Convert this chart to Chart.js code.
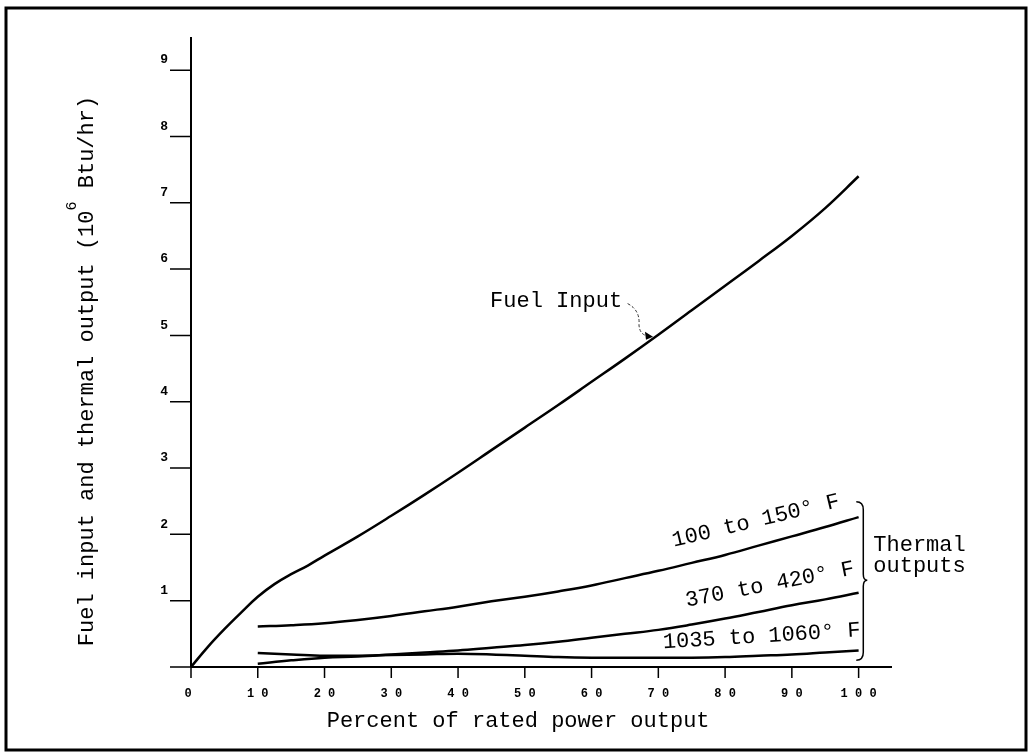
<!DOCTYPE html>
<html>
<head>
<meta charset="utf-8">
<script src="https://cdn.jsdelivr.net/npm/chart.js@4.4.1/dist/chart.umd.min.js"></script>
<style>
  html, body { margin: 0; padding: 0; background: #fff; }
</style>
</head>
<body>
<canvas id="myChart" width="1029" height="753"></canvas>
<script>
// axis ticks
const xTicks = [0, 10, 20, 30, 40, 50, 60, 70, 80, 90, 100];
const xTickLabels = ['0', '1 0', '2 0', '3 0', '4 0', '5 0', '6 0', '7 0', '8 0', '9 0', '1 0 0'];
const yTicks = [1, 2, 3, 4, 5, 6, 7, 8, 9];

// fuel input curve (10^6 Btu/hr)
const fuelX = [0, 2.5, 5, 7.5, 10, 12.5, 15, 17.5, 20, 25, 30, 35, 40, 45, 50, 55, 60, 65, 70, 75, 80, 85, 90, 95, 100];
const fuelInput = [0, 0.3, 0.57, 0.82, 1.06, 1.25, 1.4, 1.53, 1.68, 1.97, 2.28, 2.6, 2.93, 3.27, 3.61, 3.95, 4.3, 4.65, 5.01, 5.38, 5.75, 6.12, 6.5, 6.92, 7.4];

// thermal outputs
const thermalX = [10, 15, 20, 25, 30, 35, 40, 45, 50, 55, 60, 65, 70, 75, 80, 85, 90, 95, 100];
const out100to150 = [0.61, 0.63, 0.66, 0.71, 0.77, 0.84, 0.91, 0.99, 1.06, 1.14, 1.23, 1.34, 1.45, 1.57, 1.69, 1.83, 1.97, 2.11, 2.26];
const out370to420 = [0.05, 0.1, 0.14, 0.16, 0.19, 0.22, 0.25, 0.29, 0.33, 0.38, 0.44, 0.5, 0.56, 0.64, 0.73, 0.83, 0.93, 1.02, 1.12];
const out1035to1060 = [0.21, 0.19, 0.17, 0.17, 0.18, 0.19, 0.2, 0.19, 0.17, 0.15, 0.14, 0.14, 0.14, 0.14, 0.15, 0.17, 0.19, 0.22, 0.25];

const toPts = (xs, ys) => xs.map((x, i) => ({ x: x, y: ys[i] }));

const MONO = '"Liberation Mono", "Courier New", monospace';

const drawExtras = {
  id: 'drawExtras',
  afterDraw(chart) {
    const ctx = chart.ctx;
    const xs = chart.scales.x, ys = chart.scales.y;
    const px = v => xs.getPixelForValue(v);
    const py = v => ys.getPixelForValue(v);
    const x0 = px(0), y0 = py(0);

    ctx.save();
    ctx.strokeStyle = '#000';
    ctx.fillStyle = '#000';

    // outer frame
    ctx.lineWidth = 3;
    ctx.strokeRect(6, 8, 1020, 742);

    // axes
    ctx.lineWidth = 2;
    ctx.beginPath();
    ctx.moveTo(x0, y0); ctx.lineTo(px(xs.max), y0);
    ctx.moveTo(x0, y0); ctx.lineTo(x0, py(ys.max));
    ctx.stroke();

    // y ticks + labels
    ctx.lineWidth = 1.5;
    ctx.font = 'bold 13px ' + MONO;
    ctx.textAlign = 'right';
    ctx.textBaseline = 'middle';
    ctx.beginPath();
    ctx.moveTo(x0 - 21, y0); ctx.lineTo(x0, y0);
    yTicks.forEach(v => { ctx.moveTo(x0 - 21, py(v)); ctx.lineTo(x0, py(v)); });
    ctx.stroke();
    yTicks.forEach(v => ctx.fillText(String(v), x0 - 23, py(v) - 10));

    // x ticks + labels
    ctx.textAlign = 'center';
    ctx.font = 'bold 12px ' + MONO;
    ctx.beginPath();
    xTicks.forEach(v => { ctx.moveTo(px(v), y0); ctx.lineTo(px(v), y0 + 11); });
    ctx.stroke();
    xTicks.forEach((v, i) => ctx.fillText(xTickLabels[i], px(v) + (v === 0 ? -3 : 0), y0 + 27));

    // axis titles
    ctx.font = '22px ' + MONO;
    ctx.textBaseline = 'alphabetic';
    ctx.fillText('Percent of rated power output', px(49), y0 + 60);

    const p1 = 'Fuel input and thermal output (10';
    const p2 = '6';
    const p3 = ' Btu/hr)';
    ctx.font = '22px ' + MONO;
    const w1 = ctx.measureText(p1).width, w3 = ctx.measureText(p3).width;
    ctx.font = '15px ' + MONO;
    const w2 = ctx.measureText(p2).width;
    const total = w1 + w2 + w3;
    ctx.save();
    ctx.translate(93, 371);
    ctx.rotate(-Math.PI / 2);
    ctx.textAlign = 'left';
    ctx.font = '22px ' + MONO;
    ctx.fillText(p1, -total / 2, 0);
    ctx.fillText(p3, -total / 2 + w1 + w2, 0);
    ctx.font = '15px ' + MONO;
    ctx.fillText(p2, -total / 2 + w1, -17);
    ctx.restore();

    // Fuel Input label + curly arrow
    ctx.font = '22px ' + MONO;
    ctx.textAlign = 'left';
    ctx.fillText('Fuel Input', px(44.8), py(5.43));
    ctx.save();
    ctx.lineWidth = 1;
    ctx.strokeStyle = '#333';
    ctx.setLineDash([3, 2]);
    ctx.beginPath();
    ctx.moveTo(px(65.4), py(5.48));
    ctx.quadraticCurveTo(px(67.3), py(5.38), px(67.1), py(5.16));
    ctx.quadraticCurveTo(px(67.2), py(5.0), px(68.6), py(4.99));
    ctx.stroke();
    ctx.restore();
    const tx = px(69.2), ty = py(4.98);
    ctx.beginPath();
    ctx.moveTo(tx, ty);
    ctx.lineTo(tx - 8, ty - 5);
    ctx.lineTo(tx - 7, ty + 3);
    ctx.closePath();
    ctx.fill();

    // rotated curve labels
    const rotText = (t, x, y, deg) => {
      ctx.save();
      ctx.translate(px(x), py(y));
      ctx.rotate(deg * Math.PI / 180);
      ctx.textAlign = 'center';
      ctx.textBaseline = 'middle';
      ctx.font = '22px ' + MONO;
      ctx.fillText(t, 0, 0);
      ctx.restore();
    };
    rotText('100 to 150\u00B0 F', 84.6, 2.2, -13.5);
    rotText('370 to 420\u00B0 F', 86.7, 1.24, -11);
    rotText('1035 to 1060\u00B0 F', 85.5, 0.46, -3.5);

    // brace
    const bx = px(100.7), bt = py(2.49), bm = py(1.31), bb = py(0.1);
    ctx.lineWidth = 1.5;
    ctx.beginPath();
    ctx.moveTo(bx - 7, bt);
    ctx.quadraticCurveTo(bx, bt, bx, bt + 8);
    ctx.lineTo(bx, bm - 6);
    ctx.quadraticCurveTo(bx, bm, bx + 4, bm);
    ctx.quadraticCurveTo(bx, bm, bx, bm + 6);
    ctx.lineTo(bx, bb - 8);
    ctx.quadraticCurveTo(bx, bb, bx - 7, bb);
    ctx.stroke();

    ctx.textAlign = 'left';
    ctx.textBaseline = 'middle';
    ctx.font = '22px ' + MONO;
    ctx.fillText('Thermal', px(102.2), py(1.84));
    ctx.fillText('outputs', px(102.2), py(1.52));

    ctx.restore();
  }
};

const lineStyle = {
  borderColor: '#000',
  borderWidth: 2.5,
  pointRadius: 0,
  fill: false,
  tension: 0.4
};

new Chart(document.getElementById('myChart').getContext('2d'), {
  type: 'line',
  data: {
    datasets: [
      Object.assign({ label: 'Fuel Input', data: toPts(fuelX, fuelInput) }, lineStyle),
      Object.assign({ label: '100 to 150° F', data: toPts(thermalX, out100to150) }, lineStyle),
      Object.assign({ label: '370 to 420° F', data: toPts(thermalX, out370to420) }, lineStyle),
      Object.assign({ label: '1035 to 1060° F', data: toPts(thermalX, out1035to1060) }, lineStyle)
    ]
  },
  options: {
    responsive: false,
    animation: false,
    devicePixelRatio: 1,
    layout: { padding: { left: 191, right: 137, top: 37, bottom: 86 } },
    plugins: { legend: { display: false }, tooltip: { enabled: false } },
    scales: {
      x: { type: 'linear', min: 0, max: 105, display: false },
      y: { type: 'linear', min: 0, max: 9.5, display: false }
    }
  },
  plugins: [drawExtras]
});
</script>
</body>
</html>
